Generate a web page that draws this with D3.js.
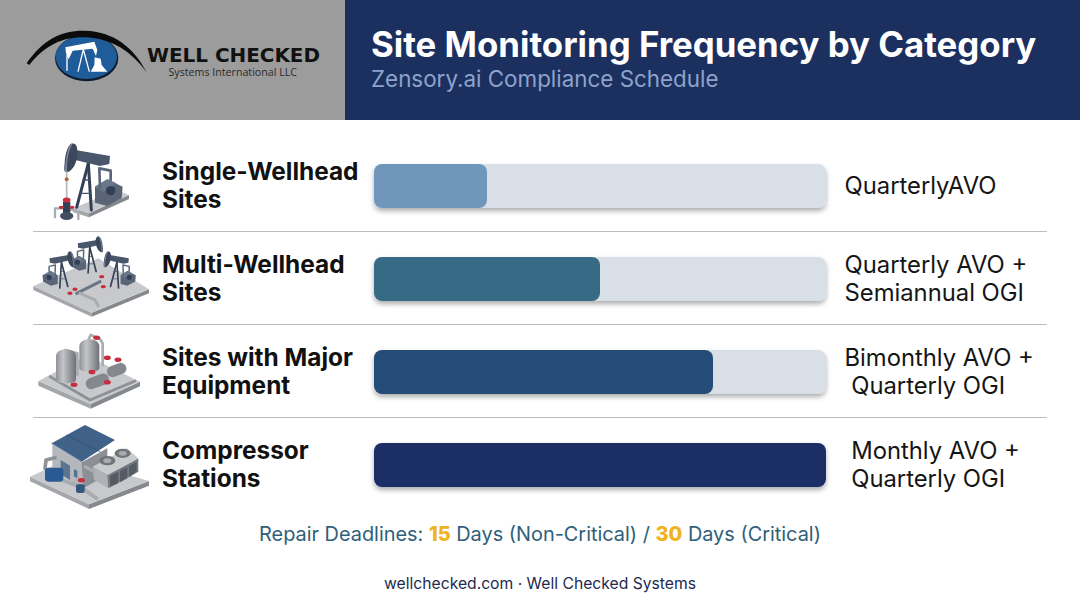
<!DOCTYPE html>
<html>
<head>
<meta charset="utf-8">
<script src="https://cdn.jsdelivr.net/npm/d3@7"></script>
<style>
  html, body { margin: 0; padding: 0; background: #fff; }
  svg { display: block; font-family: Inter, sans-serif; }
  text { white-space: pre; }
</style>
</head>
<body>
<div id="chart"></div>
<script>
const categories = [['Single-Wellhead', 'Sites'], ['Multi-Wellhead', 'Sites'], ['Sites with Major', 'Equipment'], ['Compressor', 'Stations']];
const coverage = [0.25, 0.5, 0.75, 1];
const schedules = [['QuarterlyAVO'], ['Quarterly AVO +', 'Semiannual OGI'], ['Bimonthly AVO +', ' Quarterly OGI'], [' Monthly AVO +', ' Quarterly OGI']];
const barColors = ['#7096bc', '#376a85', '#254c78', '#1b2f66'];
const repairParts = [['Repair Deadlines: ', false], ['15', true], [' Days (Non-Critical) / ', false], ['30', true], [' Days (Critical)', false]];

const W = 1080, H = 603;
const STEEL = '#46536a', STEEL_D = '#333f55', PIPE = '#a9adb2', RED = '#c42f3e';

const svg = d3.select('#chart').append('svg').attr('width', W).attr('height', H).attr('viewBox', `0 0 ${W} ${H}`);

const defs = svg.append('defs');
const shadow = defs.append('filter').attr('id', 'barShadow').attr('x', '-5%').attr('y', '-30%').attr('width', '110%').attr('height', '170%');
shadow.append('feDropShadow').attr('dx', 0).attr('dy', 3).attr('stdDeviation', 2.5).attr('flood-color', '#000').attr('flood-opacity', 0.32);
const soft = defs.append('filter').attr('id', 'soft');
soft.append('feGaussianBlur').attr('stdDeviation', 0.45);

// header
svg.append('rect').attr('width', 345).attr('height', 120).attr('fill', '#9c9c9c');
svg.append('rect').attr('x', 345).attr('width', W - 345).attr('height', 120).attr('fill', '#1b305f');
svg.append('text').attr('x', 371).attr('y', 57).attr('fill', '#fff').attr('font-size', 34.8).attr('font-weight', 700).text('Site Monitoring Frequency by Category');
svg.append('text').attr('x', 371).attr('y', 87).attr('fill', '#8ea2cc').attr('font-size', 22.4).text('Zensory.ai Compliance Schedule');

// logo, drawn in the 3x zoom coordinates of the header
const logo = svg.append('g').attr('transform', 'scale(0.3333)');
logo.append('ellipse').attr('cx', 260).attr('cy', 174).attr('rx', 95).attr('ry', 70).attr('fill', '#0f1b2c');
logo.append('ellipse').attr('cx', 259).attr('cy', 171).attr('rx', 92).attr('ry', 66).attr('fill', '#1f5c9a');
logo.append('path').attr('fill', '#0b0b0b').attr('d', 'M80,190 C130,115 190,90 255,92 C340,95 400,140 440,217 C395,155 335,115 255,112 C190,110 135,135 88,195 Z');
const logoJack = logo.append('g').attr('fill', '#fff').attr('stroke', '#fff');
logoJack.append('path').attr('stroke', 'none').attr('d', 'M196,142 L283,125 L292,150 L288,168 L278,146 L218,152 L206,178 L198,160 Z');
logoJack.append('path').attr('fill', 'none').attr('stroke-width', 4).attr('d', 'M250,148 L234,215 M250,148 L268,215 M201,165 L201,212');
logoJack.append('path').attr('stroke', 'none').attr('d', 'M284,172 L302,176 L305,195 L322,215 L272,215 L283,195 Z');
svg.append('text').attr('x', 147).attr('y', 61.5).attr('fill', '#111').attr('font-family', 'DejaVu Sans').attr('font-size', 20).attr('font-weight', 700).attr('textLength', 173).attr('lengthAdjust', 'spacingAndGlyphs').text('WELL CHECKED');
svg.append('text').attr('x', 168.5).attr('y', 76).attr('fill', '#2a2a2a').attr('font-family', 'Open Sans').attr('font-size', 11).attr('textLength', 128.5).attr('lengthAdjust', 'spacingAndGlyphs').text('Systems International LLC');

// scales
const x = d3.scaleLinear().domain([0, 1]).range([374, 826]);
const y = d3.scaleBand().domain(d3.range(categories.length)).range([139.5, 511.5]);
const BAR_H = 44;
const cy = (i) => y(i) + y.bandwidth() / 2;

// row dividers
svg.append('g').selectAll('line').data(d3.range(1, categories.length)).join('line')
  .attr('x1', 33).attr('x2', 1047)
  .attr('y1', (i) => y(i) - 1).attr('y2', (i) => y(i) - 1)
  .attr('stroke', '#bdbdbd').attr('stroke-width', 1);

// bars
svg.append('g').selectAll('rect').data(categories).join('rect')
  .attr('x', x(0)).attr('width', x(1) - x(0))
  .attr('y', (_, i) => cy(i) - BAR_H / 2).attr('height', BAR_H).attr('rx', 8)
  .attr('fill', '#d8dfe7').attr('filter', 'url(#barShadow)');
svg.append('g').selectAll('rect').data(coverage).join('rect')
  .attr('x', x(0)).attr('width', (d) => x(d) - x(0))
  .attr('y', (_, i) => cy(i) - BAR_H / 2).attr('height', BAR_H).attr('rx', 8)
  .attr('fill', (_, i) => barColors[i]);

// category labels
const catText = svg.append('g').selectAll('text').data(categories).join('text')
  .attr('fill', '#111').attr('font-size', 24.4).attr('font-weight', 700);
catText.selectAll('tspan').data((d, i) => d.map((t) => ({ t, i }))).join('tspan')
  .attr('x', 162).attr('y', (d, k) => cy(d.i) - 6 + k * 28).text((d) => d.t);

// schedule labels
const schedText = svg.append('g').selectAll('text').data(schedules).join('text')
  .attr('fill', '#151515').attr('font-size', 23.8);
schedText.selectAll('tspan').data((d, i) => d.map((t) => ({ t, i, n: d.length }))).join('tspan')
  .attr('x', 844.5).attr('y', (d, k) => cy(d.i) + (d.n === 1 ? 8 : -6 + k * 27.5)).text((d) => d.t);

// footer
svg.append('text').attr('x', W / 2).attr('y', 541).attr('text-anchor', 'middle').attr('font-size', 19.9).attr('fill', '#2f6079')
  .selectAll('tspan').data(repairParts).join('tspan')
  .attr('font-weight', (d) => (d[1] ? 800 : 400)).attr('fill', (d) => (d[1] ? '#efb320' : null)).text((d) => d[0]);
svg.append('text').attr('x', W / 2).attr('y', 589).attr('text-anchor', 'middle').attr('font-size', 15.7).attr('fill', '#1c2a52').text('wellchecked.com · Well Checked Systems');

// icon helpers, all in the 3x zoom coordinates of the icon column
function poly(g, pts, fill) {
  return g.append('polygon').attr('points', pts).attr('fill', fill);
}
function pipe(g, d, w = 6, c = PIPE) {
  return g.append('path').attr('d', d).attr('fill', 'none').attr('stroke', c).attr('stroke-width', w).attr('stroke-linecap', 'round').attr('stroke-linejoin', 'round');
}
function valve(g, cx_, cy_, r = 6) {
  g.append('ellipse').attr('cx', cx_).attr('cy', cy_).attr('rx', r * 1.3).attr('ry', r * 0.85).attr('fill', RED);
}
function slab(g, a, b, c, d, t) {
  poly(g, [a, d, [d[0], d[1] + t], [a[0], a[1] + t]].join(' '), '#a4a6aa');
  poly(g, [d, c, [c[0], c[1] + t], [d[0], d[1] + t]].join(' '), '#85888d');
  poly(g, [a, b, c, d].join(' '), '#c8c9cc');
}
function jack(g) {
  // local coords match the first icon
  pipe(g, 'M205,100 L170,232', 9, STEEL_D);
  pipe(g, 'M205,100 L214,240', 9, STEEL_D);
  pipe(g, 'M180,190 L213,190', 4, STEEL);
  pipe(g, 'M188,150 L208,150', 4, STEEL);
  poly(g, '225,218 225,170 262,148 308,170 305,205 262,228', '#5a6578');
  poly(g, '225,170 262,148 290,160 250,185', '#6b7689');
  g.append('circle').attr('cx', 272).attr('cy', 182).attr('r', 14).attr('fill', STEEL_D);
  pipe(g, 'M240,172 L238,115 L272,122 L272,150', 8, '#59657a');
  g.append('path').attr('fill', '#4a566c').attr('d', 'M166,60 L270,78 L268,102 L240,108 L166,90 Z');
  g.append('path').attr('fill', '#3c475c').attr('d', 'M152,42 C168,36 174,50 172,75 C170,100 158,122 142,127 C131,129 132,115 134,100 C135,75 142,50 152,42 Z');
  g.append('path').attr('fill', '#7b8598').attr('d', 'M152,42 C144,52 138,80 134,122 L141,127 C140,90 146,60 158,41 Z');
}
function wellhead(g) {
  pipe(g, 'M140,125 L140,205', 5, '#b4b7bb');
  g.append('circle').attr('cx', 140).attr('cy', 148).attr('r', 6).attr('fill', '#b8663a');
  pipe(g, 'M105,262 L105,235 L140,235 L175,245 L175,268', 7);
  g.append('rect').attr('x', 129).attr('y', 215).attr('width', 22).attr('height', 40).attr('fill', STEEL_D);
  g.append('ellipse').attr('cx', 140).attr('cy', 258).attr('rx', 20).attr('ry', 12).attr('fill', '#434e62');
  valve(g, 140, 210, 9);
  valve(g, 124, 232, 6);
  valve(g, 156, 232, 6);
}

const icons = svg.append('g').attr('filter', 'url(#soft)');

// icon 1: single pumpjack
const ic1 = icons.append('g').attr('transform', 'translate(20,130) scale(0.3333)');
slab(ic1, [160, 235], [290, 180], [327, 195], [207, 250], 12);
jack(ic1);
wellhead(ic1);

// icon 2: three pumpjacks on a pad
const ic2 = icons.append('g').attr('transform', 'translate(20,130) scale(0.3333)');
slab(ic2, [40, 468], [235, 385], [387, 478], [215, 548], 12);
['translate(322,297) scale(-0.55,0.55)', 'translate(237,342) scale(-0.55,0.55)', 'translate(178,342) scale(0.55,0.55)']
  .forEach((t) => jack(ic2.append('g').attr('transform', t)));
pipe(ic2, 'M170,490 L240,455', 9, '#6a7487');
pipe(ic2, 'M180,490 L225,510 L235,528', 9, PIPE);
[[165, 478], [245, 440], [250, 470], [150, 490]].forEach((p) => valve(ic2, p[0], p[1], 6));

// icon 3: tanks and vessels
const ic3 = icons.append('g').attr('transform', 'translate(20,325) scale(0.3333)');
slab(ic3, [55, 168], [200, 92], [360, 170], [212, 237], 14);
pipe(ic3, 'M90,155 L210,225 L345,168', 8, '#8d9196');
function tank(g, x0, top, w, h) {
  const id = `t${x0}`;
  const grad = defs.append('linearGradient').attr('id', id);
  grad.append('stop').attr('offset', 0).attr('stop-color', '#8e9196');
  grad.append('stop').attr('offset', 0.35).attr('stop-color', '#c4c5c8');
  grad.append('stop').attr('offset', 1).attr('stop-color', '#6e7177');
  g.append('path').attr('fill', `url(#${id})`).attr('d', `M${x0},${top + 22} C${x0},${top - 6} ${x0 + w},${top - 6} ${x0 + w},${top + 22} L${x0 + w},${top + h} C${x0 + w},${top + h + 14} ${x0},${top + h + 14} ${x0},${top + h} Z`);
}
pipe(ic3, 'M205,45 L212,30 L240,42 L248,55 L248,120', 8);
tank(ic3, 178, 42, 60, 88);
pipe(ic3, 'M135,75 L172,85 L172,150', 8);
tank(ic3, 108, 72, 60, 92);
function vessel(g, x0, y0, w, h) {
  g.append('rect').attr('x', x0).attr('y', y0).attr('width', w).attr('height', h).attr('rx', h / 2).attr('fill', '#84888f').attr('transform', `rotate(-20 ${x0 + w / 2} ${y0 + h / 2})`);
}
vessel(ic3, 260, 118, 60, 34);
vessel(ic3, 196, 152, 72, 34);
[[230, 38], [262, 98], [294, 104], [216, 141], [262, 172], [162, 179]].forEach((p) => valve(ic3, p[0], p[1], 8));

// icon 4: compressor building
const ic4 = icons.append('g').attr('transform', 'translate(20,325) scale(0.3333)');
slab(ic4, [30, 455], [150, 400], [387, 468], [207, 538], 14);
poly(ic4, '97,358 185,412 190,490 97,435', '#b4b8bd');
poly(ic4, '185,412 262,370 262,450 190,490', '#8c9096');
poly(ic4, '122,405 150,422 150,465 122,448', '#5b7490');
poly(ic4, '162,432 172,438 172,460 162,454', '#4f7297');
poly(ic4, '95,355 195,300 285,345 185,410', '#3f6288');
pipe(ic4, 'M95,355 L185,410', 3, '#6d87a2');
pipe(ic4, 'M140,330 L240,380', 2, '#2f4f73');
poly(ic4, '218,425 262,450 265,490 222,465', '#aeb1b5');
poly(ic4, '262,450 355,400 355,440 265,490', '#767b82');
poly(ic4, '218,425 320,370 355,400 262,450', '#c9cbcd');
[[262, 407], [308, 385]].forEach((p) => {
  ic4.append('ellipse').attr('cx', p[0]).attr('cy', p[1]).attr('rx', 24).attr('ry', 14).attr('fill', '#70747a');
  ic4.append('ellipse').attr('cx', p[0]).attr('cy', p[1]).attr('rx', 12).attr('ry', 7).attr('fill', '#a9acb0');
});
poly(ic4, '270,452 295,440 295,475 270,485', '#565c64');
poly(ic4, '300,437 322,426 322,460 300,472', '#565c64');
poly(ic4, '327,423 350,410 350,440 327,457', '#565c64');
pipe(ic4, 'M75,430 L78,405 L105,398', 11, '#8f9398');
pipe(ic4, 'M125,465 L180,485 L230,520', 12, '#a9adb2');
pipe(ic4, 'M195,425 L222,440', 9, PIPE);
ic4.append('rect').attr('x', 75).attr('y', 428).attr('width', 55).attr('height', 42).attr('rx', 10).attr('fill', '#2c5a94');
ic4.append('rect').attr('x', 168).attr('y', 478).attr('width', 26).attr('height', 26).attr('rx', 6).attr('fill', '#33567e');
valve(ic4, 184, 466, 8);
</script>
</body>
</html>
